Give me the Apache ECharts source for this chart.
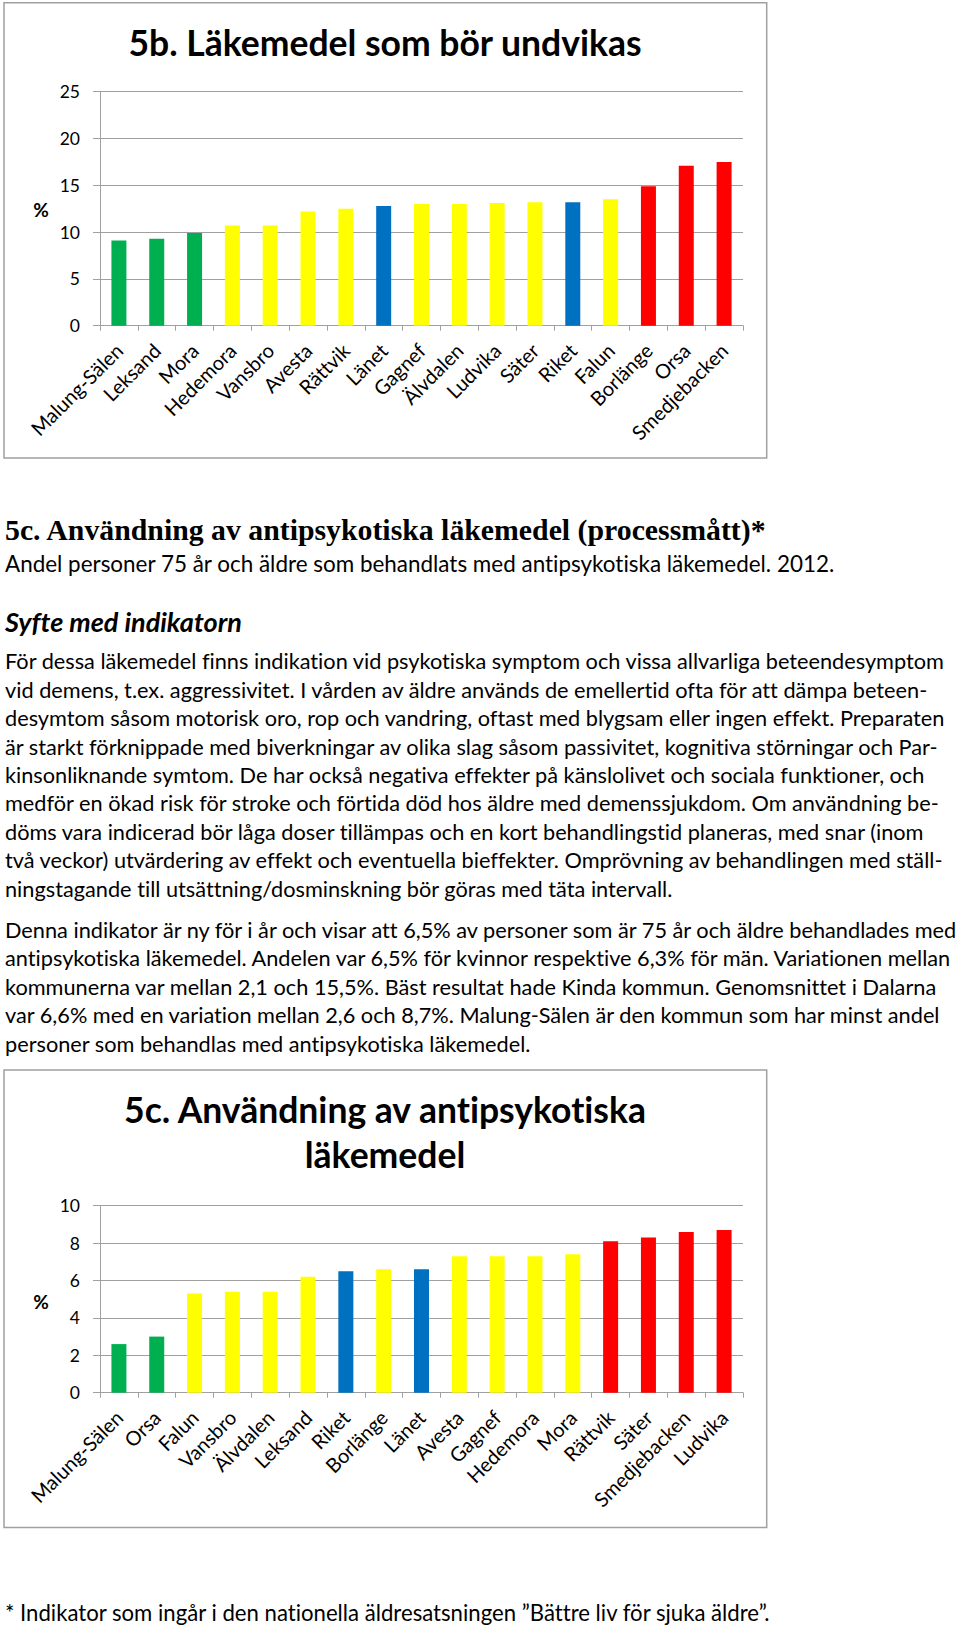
<!DOCTYPE html>
<html><head><meta charset="utf-8">
<script src="https://cdn.jsdelivr.net/npm/echarts@6/dist/echarts.min.js"></script>
<style>
html,body{margin:0;padding:0;background:#fff;width:960px;height:1627px;overflow:hidden;}
#chart{position:absolute;left:0;top:0;width:960px;height:1627px;}
#chart text, #chart tspan{font-variant-ligatures:none !important;font-feature-settings:"liga" 0, "clig" 0, "dlig" 0 !important;}
.t{position:absolute;left:5px;white-space:nowrap;color:#000;font-variant-ligatures:none;font-feature-settings:"liga" 0, "clig" 0, "dlig" 0;}
</style></head><body>
<div id="chart"></div>
<script>
// ---- Data ----
const categories1 = ['Malung-Sälen','Leksand','Mora','Hedemora','Vansbro','Avesta','Rättvik','Länet','Gagnef','Älvdalen','Ludvika','Säter','Riket','Falun','Borlänge','Orsa','Smedjebacken'];
const values1 = [9.1,9.3,9.9,10.7,10.7,12.2,12.5,12.8,13.0,13.0,13.1,13.2,13.2,13.5,14.9,17.1,17.5];
const groups1 = ['low','low','low','mid','mid','mid','mid','ref','mid','mid','mid','mid','ref','mid','high','high','high'];

const categories2 = ['Malung-Sälen','Orsa','Falun','Vansbro','Älvdalen','Leksand','Riket','Borlänge','Länet','Avesta','Gagnef','Hedemora','Mora','Rättvik','Säter','Smedjebacken','Ludvika'];
const values2 = [2.6,3.0,5.3,5.4,5.4,6.2,6.5,6.6,6.6,7.3,7.3,7.3,7.4,8.1,8.3,8.6,8.7];
const groups2 = ['low','low','mid','mid','mid','mid','ref','mid','ref','mid','mid','mid','mid','high','high','high','high'];

const ticks1 = {min:0, max:25, interval:5};
const ticks2 = {min:0, max:10, interval:2};

const title1 = '5b. Läkemedel som bör undvikas';
const title2 = '5c. Användning av antipsykotiska\nläkemedel';
const yName = '%';

const heading = '5c. Användning av antipsykotiska läkemedel (processmått)*';
const subheading = 'Andel personer 75 år och äldre som behandlats med antipsykotiska läkemedel. 2012.';
const purposeTitle = 'Syfte med indikatorn';
const para1 = [
 'För dessa läkemedel finns indikation vid psykotiska symptom och vissa allvarliga beteendesymptom',
 'vid demens, t.ex. aggressivitet. I vården av äldre används de emellertid ofta för att dämpa beteen-',
 'desymtom såsom motorisk oro, rop och vandring, oftast med blygsam eller ingen effekt. Preparaten',
 'är starkt förknippade med biverkningar av olika slag såsom passivitet, kognitiva störningar och Par-',
 'kinsonliknande symtom. De har också negativa effekter på känslolivet och sociala funktioner, och',
 'medför en ökad risk för stroke och förtida död hos äldre med demenssjukdom. Om användning be-',
 'döms vara indicerad bör låga doser tillämpas och en kort behandlingstid planeras, med snar (inom',
 'två veckor) utvärdering av effekt och eventuella bieffekter. Omprövning av behandlingen med ställ-',
 'ningstagande till utsättning/dosminskning bör göras med täta intervall.'
];
const para2 = [
 'Denna indikator är ny för i år och visar att 6,5% av personer som är 75 år och äldre behandlades med',
 'antipsykotiska läkemedel. Andelen var 6,5% för kvinnor respektive 6,3% för män. Variationen mellan',
 'kommunerna var mellan 2,1 och 15,5%. Bäst resultat hade Kinda kommun. Genomsnittet i Dalarna',
 'var 6,6% med en variation mellan 2,6 och 8,7%. Malung-Sälen är den kommun som har minst andel',
 'personer som behandlas med antipsykotiska läkemedel.'
];
const footnote = '* Indikator som ingår i den nationella äldresatsningen ”Bättre liv för sjuka äldre”.';

// ---- Styles ----
const groupColor = {low:'#00B050', mid:'#FFFF00', ref:'#0070C0', high:'#FF0000'};
const gray = '#a0a0a0';
const FONT = 'Lato, "Open Sans", sans-serif';

function xAxis(gi, cats){
  return {type:'category', gridIndex:gi, data:cats,
    axisLine:{lineStyle:{color:gray,width:1}},
    axisTick:{show:true,length:5,lineStyle:{color:gray}},
    axisLabel:{rotate:45, margin:21, interval:0, fontFamily:FONT, fontSize:20, color:'#000'}};
}
function yAxis(gi, t){
  return {type:'value', gridIndex:gi, min:t.min, max:t.max, interval:t.interval,
    axisLine:{show:true,lineStyle:{color:gray,width:1}},
    axisTick:{show:true,length:7,lineStyle:{color:gray}},
    splitLine:{show:true,lineStyle:{color:gray,width:1}},
    axisLabel:{margin:20, fontFamily:FONT, fontSize:17.5, color:'#000'}};
}
function barSeries(i, vals, groups){
  return {type:'bar', xAxisIndex:i, yAxisIndex:i, barWidth:15, animation:false,
    data: vals.map((v,k)=>({value:v, itemStyle:{color:groupColor[groups[k]]}}))};
}

const chart = echarts.init(document.getElementById('chart'), null, {renderer:'svg'});
chart.setOption({
  animation:false,
  backgroundColor:'#fff',
  grid:[
    {left:100, top:91.7, width:643, height:234, outerBoundsMode:'none', containLabel:false},
    {left:100, top:1205.7, width:643, height:187, outerBoundsMode:'none', containLabel:false}
  ],
  xAxis:[xAxis(0,categories1), xAxis(1,categories2)],
  yAxis:[yAxis(0,ticks1), yAxis(1,ticks2)],
  series:[barSeries(0,values1,groups1), barSeries(1,values2,groups2)],
  graphic:[
    {type:'rect', shape:{x:4,y:2.7,width:762.7,height:455.3}, style:{fill:'none',stroke:gray,lineWidth:1.5}, silent:true},
    {type:'rect', shape:{x:4,y:1070,width:762.7,height:457.6}, style:{fill:'none',stroke:gray,lineWidth:1.5}, silent:true},
    {type:'text', x:385, y:42, style:{text:title1, font:'bold 35.5px '+FONT, fill:'#000', align:'center', verticalAlign:'middle', textAlign:'center', textVerticalAlign:'middle'}},
    {type:'text', x:385, y:1132, style:{text:title2, font:'bold 35.5px '+FONT, lineHeight:45, fill:'#000', align:'center', verticalAlign:'middle', textAlign:'center', textVerticalAlign:'middle'}},
    {type:'text', x:41, y:209, style:{text:yName, font:'bold 19px '+FONT, fill:'#000', align:'center', verticalAlign:'middle', textAlign:'center', textVerticalAlign:'middle'}},
    {type:'text', x:41, y:1301, style:{text:yName, font:'bold 19px '+FONT, fill:'#000', align:'center', verticalAlign:'middle', textAlign:'center', textVerticalAlign:'middle'}}
  ]
});

// ---- Text block ----
function makeLine(text, family, weight, fstyle, fs, baseline){
  const d=document.createElement('div'); d.className='t';
  d.style.fontFamily=family; d.style.fontWeight=weight; d.style.fontStyle=fstyle;
  d.style.fontSize=fs+'px'; d.style.lineHeight='1.25';
  const s=document.createElement('span'); s.textContent=text; d.appendChild(s);
  const m=document.createElement('span'); m.style.display='inline-block'; m.style.width='0'; m.style.height='0'; d.appendChild(m);
  d.style.top='0px'; document.body.appendChild(d);
  const b = m.getBoundingClientRect().top - d.getBoundingClientRect().top;
  d.style.top=(baseline-b)+'px';
  return {d, s};
}
function fitSize(text, family, weight, fstyle, target){
  const p = makeLine(text,family,weight,fstyle,20,-200);
  const w = p.s.getBoundingClientRect().width;
  p.d.remove();
  return 20*target/w;
}
const serif = '"Liberation Serif", "DejaVu Serif", serif';
makeLine(heading, serif, '700', 'normal', fitSize(heading, serif, '700','normal',761), 540);
makeLine(subheading, FONT, '400', 'normal', fitSize(subheading, FONT,'400','normal',830), 571.7);
makeLine(purposeTitle, FONT, '700', 'italic', fitSize(purposeTitle, FONT,'700','italic',237), 632);
const bodyFs = (fitSize(para1[0], FONT,'400','normal',939) + fitSize(para2[0], FONT,'400','normal',952))/2;
para1.forEach((l,i)=>makeLine(l, FONT,'400','normal', bodyFs, 669.3 + i*28.4));
para2.forEach((l,i)=>makeLine(l, FONT,'400','normal', bodyFs, 938 + i*28.4));
makeLine(footnote, FONT, '400', 'normal', fitSize(footnote, FONT,'400','normal',765), 1621);
</script>
</body></html>
